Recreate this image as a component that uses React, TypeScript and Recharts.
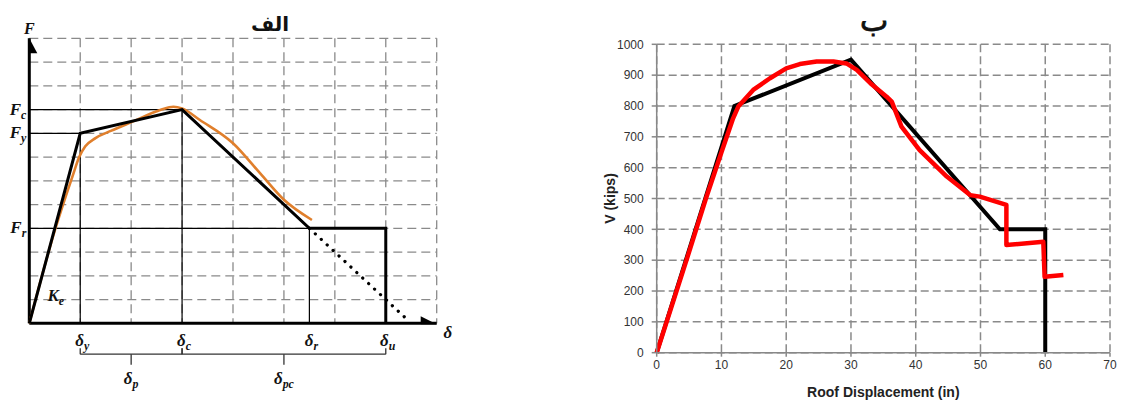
import { LineChart, Line, XAxis, YAxis, CartesianGrid, ReferenceLine, ReferenceDot, Label } from 'recharts';

// chart "الف" - idealised backbone, schematic units
const gridD = [0, 1, 2, 3, 4, 5, 6, 7, 8];
const gridF = [0, 1, 2, 3, 4, 5, 6, 7, 8, 9, 10, 11, 12];
const backboneD = [0, 1, 3, 5.5, 7, 7];
const backboneF = [0, 8, 9, 4, 4, 0];
const testD = [0, 0.5, 0.85, 0.98, 1.1, 1.3, 1.6, 2.04, 2.57, 2.83, 3.0, 3.35, 4.0, 4.53, 5.0, 5.55];
const testF = [0, 3.9, 6.2, 7.0, 7.45, 7.8, 8.1, 8.5, 8.98, 9.12, 9.05, 8.56, 7.58, 6.32, 5.2, 4.35];
const dropD = [5.5, 7.45];
const dropF = [4, 0.1];
const guideD = [1, 3, 5.5];
const guideF = [8, 9, 4];
const fMarks = [
  { f: 9, sub: 'c' },
  { f: 8, sub: 'y' },
  { f: 4, sub: 'r' },
];
const dMarks = [
  { d: 1, sub: 'y' },
  { d: 3, sub: 'c' },
  { d: 5.5, sub: 'r' },
  { d: 7, sub: 'u' },
];
const braces = [
  { from: 1, to: 3, sub: 'p' },
  { from: 3, to: 7, sub: 'pc' },
];

// chart "ب" - pushover curve
const dispTicks = [0, 10, 20, 30, 40, 50, 60, 70];
const vTicks = [0, 100, 200, 300, 400, 500, 600, 700, 800, 900, 1000];
const idealDisp = [0, 12, 30, 53, 60, 60];
const idealV = [0, 800, 950, 400, 400, 0];
const pushDisp = [0, 4.6, 7.6, 10, 11.8, 12.6, 14.9, 17.5, 20, 22.1, 24.7, 27.3, 29.3, 30.9, 33, 35.5, 36.3, 37.8, 40.6, 44.8, 48.4, 49.9, 54, 54, 59.7, 59.9, 62.8];
const pushV = [0, 300, 500, 650, 760, 798, 852, 890, 922, 936, 944, 944, 938, 917, 874, 830, 814, 733, 657, 571, 511, 506, 479, 349, 360, 246, 252];

const zip = (xs: number[], ys: number[]) => xs.map((x, i) => ({ x, y: ys[i] }));

const backbone = zip(backboneD, backboneF);
const test = zip(testD, testF);
const drop = zip(dropD, dropF);
const ideal = zip(idealDisp, idealV);
const push = zip(pushDisp, pushV);

const MATH = "'Liberation Serif', 'DejaVu Serif', serif";
const SANS = "'Liberation Sans', Arial, sans-serif";

const Sym = ({ x, y, base, sub, anchor = 'middle', size = 17 }: any) => (
  <text x={x} y={y} textAnchor={anchor} fontFamily={MATH} fontStyle="italic" fontWeight="bold" fontSize={size} fill="#111">
    {base}
    {sub ? (
      <tspan fontSize={size * 0.7} dy={4}>
        {sub}
      </tspan>
    ) : null}
  </text>
);

// grid comes from the axis ticks; the labels themselves are drawn as reference dots
const NoTick = () => <g />;

const VLabel = (props: any) => {
  const vb = props.viewBox || { x: 0, y: 0, width: 0, height: 0 };
  const cx = vb.x - 2;
  const cy = vb.y + vb.height / 2;
  return (
    <text
      x={cx}
      y={cy}
      transform={`rotate(-90 ${cx} ${cy})`}
      textAnchor="middle"
      dominantBaseline="central"
      fontFamily={SANS}
      fontWeight="bold"
      fontSize={14}
      fill="#222"
    >
      V (kips)
    </text>
  );
};

const SchematicChart = () => (
  <LineChart width={470} height={403} margin={{ top: 38.3, right: 33.3, left: 29.3, bottom: 79.7 }}>
    <CartesianGrid strokeDasharray="9 5" stroke="#8a8a8a" strokeWidth={1.3} />
    <XAxis type="number" dataKey="x" domain={[0, 8]} ticks={gridD} height={0} tickSize={0} tickMargin={0} tickLine={false} axisLine={{ stroke: '#000', strokeWidth: 3 }} tick={<NoTick />} />
    <YAxis type="number" dataKey="y" domain={[0, 12]} ticks={gridF} width={0} tickSize={0} tickMargin={0} tickLine={false} axisLine={false} tick={<NoTick />} />
    {guideD.map((d, i) => (
      <ReferenceLine key={`gv${i}`} segment={[{ x: d, y: 0 }, { x: d, y: guideF[i] }]} stroke="#000" strokeWidth={1.2} ifOverflow="visible" />
    ))}
    {guideD.map((d, i) => (
      <ReferenceLine key={`gh${i}`} segment={[{ x: 0, y: guideF[i] }, { x: d, y: guideF[i] }]} stroke="#000" strokeWidth={1.2} ifOverflow="visible" />
    ))}
    <ReferenceLine segment={[{ x: 0, y: 0 }, { x: 0, y: 12 }]} stroke="#000" strokeWidth={3} ifOverflow="visible" />
    <ReferenceLine segment={[{ x: 0, y: 0 }, { x: 8, y: 0 }]} stroke="#000" strokeWidth={3} ifOverflow="visible" />
    <ReferenceDot
      x={0}
      y={12}
      ifOverflow="visible"
      shape={(p: any) => <polygon points={`${p.cx},${p.cy} ${p.cx + 8},${p.cy + 15} ${p.cx - 1},${p.cy + 15}`} fill="#000" />}
    />
    <ReferenceDot
      x={8}
      y={0}
      ifOverflow="visible"
      shape={(p: any) => <polygon points={`${p.cx},${p.cy + 1} ${p.cx - 16},${p.cy - 7} ${p.cx - 16},${p.cy + 1}`} fill="#000" />}
    />
    {fMarks.map((m, i) => (
      <ReferenceDot key={`fm${i}`} x={0} y={m.f} ifOverflow="visible" shape={(p: any) => <Sym x={p.cx - 3} y={p.cy + 5} base="F" sub={m.sub} anchor="end" />} />
    ))}
    {braces.map((b, i) => [
      <ReferenceLine key={`bh${i}`} segment={[{ x: b.from, y: -1.3 }, { x: b.to, y: -1.3 }]} stroke="#333" strokeWidth={1.3} ifOverflow="visible" />,
      <ReferenceLine key={`bl${i}`} segment={[{ x: b.from, y: -1.3 }, { x: b.from, y: -1.05 }]} stroke="#333" strokeWidth={1.3} ifOverflow="visible" />,
      <ReferenceLine key={`br${i}`} segment={[{ x: b.to, y: -1.3 }, { x: b.to, y: -1.05 }]} stroke="#333" strokeWidth={1.3} ifOverflow="visible" />,
      <ReferenceLine key={`bm${i}`} segment={[{ x: (b.from + b.to) / 2, y: -1.3 }, { x: (b.from + b.to) / 2, y: -1.75 }]} stroke="#333" strokeWidth={1.3} ifOverflow="visible" />,
      <ReferenceDot
        key={`bt${i}`}
        x={(b.from + b.to) / 2}
        y={-2.55}
        ifOverflow="visible"
        shape={(p: any) => <Sym x={p.cx} y={p.cy} base="δ" sub={b.sub} />}
      />,
    ])}
    {dMarks.map((m, i) => (
      <ReferenceDot key={`dm${i}`} x={m.d} y={-0.95} ifOverflow="visible" shape={(p: any) => <Sym x={p.cx + 2} y={p.cy} base="δ" sub={m.sub} />} />
    ))}
    <ReferenceDot x={0.52} y={0.95} ifOverflow="visible" shape={(p: any) => <Sym x={p.cx} y={p.cy} base="K" sub="e" />} />
    <ReferenceDot x={8.22} y={-0.62} ifOverflow="visible" shape={(p: any) => <Sym x={p.cx} y={p.cy} base="δ" />} />
    <ReferenceDot x={0} y={12} ifOverflow="visible" shape={(p: any) => <Sym x={p.cx} y={p.cy - 4} base="F" size={16} />} />
    <Line data={test} dataKey="y" type="monotone" stroke="#e07f2c" strokeWidth={2.6} dot={false} activeDot={false} isAnimationActive={false} />
    <Line data={backbone} dataKey="y" type="linear" stroke="#000" strokeWidth={3} dot={false} activeDot={false} isAnimationActive={false} />
    <Line data={drop} dataKey="y" type="linear" stroke="#000" strokeWidth={3.2} strokeDasharray="0.1 8" strokeLinecap="round" dot={false} activeDot={false} isAnimationActive={false} />
  </LineChart>
);

const PushoverChart = () => (
  <LineChart width={521} height={403} margin={{ top: 44.3, right: 11, left: 11.7, bottom: 20.3 }}>
    <CartesianGrid strokeDasharray="8 4" stroke="#8a8a8a" strokeWidth={1.5} />
    <XAxis
      type="number"
      dataKey="x"
      domain={[0, 70]}
      ticks={dispTicks}
      interval={0}
      height={30}
      tickSize={4}
      tickMargin={4}
      tick={{ fill: '#333', fontSize: 12, fontFamily: SANS }}
      tickLine={{ stroke: '#888', strokeWidth: 1.5 }}
      axisLine={{ stroke: '#888', strokeWidth: 1.5 }}
    >
      <Label value="Roof Displacement (in)" position="bottom" offset={4} fill="#222" fontSize={14} fontWeight="bold" fontFamily={SANS} />
    </XAxis>
    <YAxis
      type="number"
      dataKey="y"
      domain={[0, 1000]}
      ticks={vTicks}
      interval={0}
      width={45}
      tickSize={5}
      tickMargin={8}
      tick={{ fill: '#333', fontSize: 12, fontFamily: SANS }}
      tickLine={{ stroke: '#888', strokeWidth: 1.5 }}
      axisLine={{ stroke: '#888', strokeWidth: 1.5 }}
    >
      <Label content={<VLabel />} />
    </YAxis>
    <Line data={ideal} dataKey="y" type="linear" stroke="#000" strokeWidth={4} dot={false} activeDot={false} isAnimationActive={false} />
    <Line data={push} dataKey="y" type="linear" stroke="#ff0000" strokeWidth={4.5} strokeLinejoin="round" dot={false} activeDot={false} isAnimationActive={false} />
  </LineChart>
);

const titleStyle = {
  position: 'absolute' as const,
  width: 100,
  textAlign: 'center' as const,
  fontFamily: "'DejaVu Sans', sans-serif",
  fontWeight: 'bold' as const,
  fontSize: 20,
  lineHeight: '30px',
  color: '#111',
  zIndex: 5,
};

export default function App() {
  return (
    <div style={{ position: 'fixed', left: 0, top: 0, width: 1121, height: 403, background: '#fff', overflow: 'hidden' }}>
      <div style={{ position: 'absolute', left: 0, top: 0 }}>
        <SchematicChart />
      </div>
      <div style={{ position: 'absolute', left: 600, top: 0 }}>
        <PushoverChart />
      </div>
      <div dir="rtl" style={{ ...titleStyle, left: 220, top: 9 }}>الف</div>
      <div dir="rtl" style={{ ...titleStyle, left: 824, top: 6, fontSize: 30, fontWeight: 'normal' as const, WebkitTextStroke: '0.8px #111' }}>ب</div>
    </div>
  );
}
